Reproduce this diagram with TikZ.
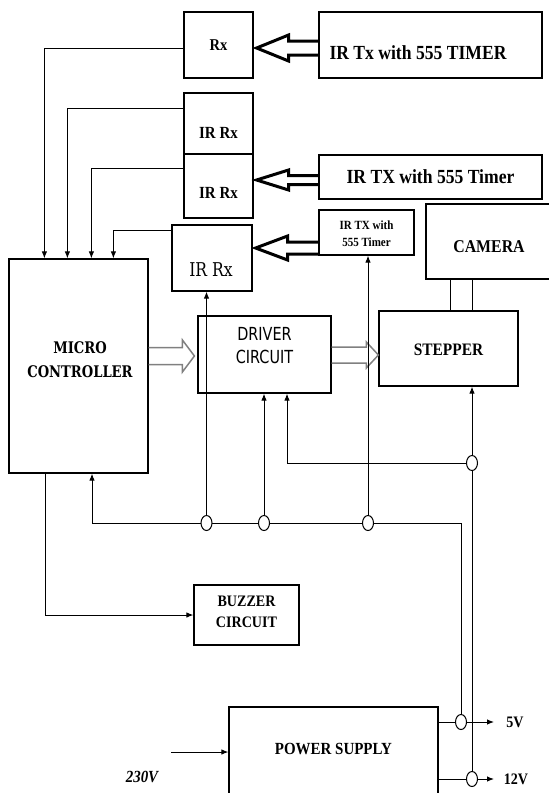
\documentclass[tikz,border=0pt]{standalone}
\usepackage{fontspec}
\setmainfont{Liberation Serif}
\newfontfamily\tnr{Liberation Serif}[FakeStretch=0.88]
\newfontfamily\djsans{DejaVu Sans}[FakeStretch=0.8]
\newfontfamily\djserif{DejaVu Serif}[FakeStretch=0.82]
\usetikzlibrary{arrows.meta,calc,shapes.geometric}
\newcommand\fsz[2]{\fontsize{#1}{#2}\selectfont}
\newcommand\blockarrow[6]{%
  \draw[#1] let \p1=(#2), \p2=(#3) in
    (\x1,\y2+#4) -- (\x2+#6,\y2+#4) -- (\x2+#6,\y2+#5) -- (\x2,\y2)
    -- (\x2+#6,\y2-#5) -- (\x2+#6,\y2-#4) -- (\x1,\y2-#4);}
\begin{document}
\begin{tikzpicture}[x=1pt,y=-1pt,
  box/.style={draw, line width=1.2pt, inner sep=0pt, rectangle},
  wire/.style={line width=1pt},
  tip/.style={-{Latex[length=7pt,width=5.5pt]}},
  junc/.style={draw, line width=1pt, fill=white, ellipse, minimum width=11pt, minimum height=15pt, inner sep=0pt},
  irarrow/.style={draw, line width=3pt, miter limit=20},
  grayarrow/.style={draw=black!50, line width=1.5pt, miter limit=20}
]
\useasboundingbox (0,0) rectangle (549,793);
\clip (0,0) rectangle (549,793);

% boxes
\node[box, minimum width=69pt, minimum height=66pt,
  label={[font=\tnr\bfseries\fsz{16.5}{18}]center:Rx}] (rx) at (218.5,45) {};
\node[box, minimum width=223pt, minimum height=66pt,
  label={[xshift=-12.5pt,yshift=-8pt,font=\tnr\bfseries\fsz{20}{22}]center:IR Tx with 555 TIMER}] (tx1) at (430.5,45) {};
\node[box, minimum width=69pt, minimum height=61pt,
  label={[yshift=-9.5pt,font=\tnr\bfseries\fsz{17}{19}]center:IR Rx}] (irrx1) at (218.5,123.5) {};
\node[box, minimum width=69pt, minimum height=64pt,
  label={[yshift=-7pt,font=\tnr\bfseries\fsz{17}{19}]center:IR Rx}] (irrx2) at (218.5,186) {};
\node[box, minimum width=223pt, minimum height=44pt,
  label={[font=\tnr\bfseries\fsz{20}{22}]center:IR TX with 555 Timer}] (tx2) at (430.5,177) {};
\node[box, minimum width=80pt, minimum height=66pt,
  label={[xshift=-1pt,yshift=-12pt,font=\djserif\fsz{19}{21}]center:IR Rx}] (irrx3) at (212,258) {};
\node[box, minimum width=95pt, minimum height=45pt,
  label={[yshift=-1pt,align=center,font=\tnr\bfseries\fsz{12.5}{17}]center:IR TX with\\555 Timer}] (tx3) at (366.5,232.5) {};
\node[box, minimum width=129pt, minimum height=75pt,
  label={[xshift=-1.5pt,yshift=-5.5pt,font=\tnr\bfseries\fsz{18}{20}]center:CAMERA}] (camera) at (490.5,241.5) {};
\node[box, minimum width=139pt, minimum height=214pt,
  label={[xshift=1.5pt,yshift=6pt,align=center,font=\djserif\bfseries\fsz{16}{24}]center:MICRO\\CONTROLLER}] (mc) at (78.5,366) {};
\node[box, minimum width=133pt, minimum height=77pt,
  label={[yshift=8.5pt,align=center,font=\djsans\fsz{18}{23}]center:DRIVER\\CIRCUIT}] (driver) at (264.5,354.5) {};
\node[box, minimum width=139pt, minimum height=75pt,
  label={[yshift=-1.5pt,font=\tnr\bfseries\fsz{17.5}{20}]center:STEPPER}] (stepper) at (448.5,348.5) {};
\node[box, minimum width=105pt, minimum height=60pt,
  label={[yshift=3pt,align=center,font=\tnr\bfseries\fsz{16}{21}]center:BUZZER\\CIRCUIT}] (buzzer) at (246.5,615) {};
\node[box, minimum width=209pt, minimum height=113pt,
  label={[yshift=14.5pt,font=\tnr\bfseries\fsz{17}{19}]center:POWER SUPPLY}] (power) at (333.5,763.5) {};

% outside labels
\node[font=\tnr\bfseries\fsz{16}{18}] (l5) at (515,722) {5V};
\node[font=\tnr\bfseries\fsz{16}{18}] (l12) at (516,779) {12V};
\node[font=\tnr\bfseries\itshape\fsz{17}{19}] (l230) at (142,777) {230V};

% coordinates
\coordinate (j1) at (206.5,523);
\coordinate (j2) at (264,523);
\coordinate (j3) at (368,523);
\coordinate (jr) at (461,523);
\coordinate (c4) at (472,463);
\coordinate (c5) at (461,722);
\coordinate (c12) at (472,779);
\coordinate (o5) at (494,722);
\coordinate (o12) at (494,779);
\coordinate (in230) at (171,752);

% IR block arrows
\blockarrow{irarrow}{[yshift=-3pt]tx1.west}{[xshift=3pt,yshift=-3pt]rx.east}{7pt}{13pt}{32pt}
\blockarrow{irarrow}{[yshift=-3pt]tx2.west}{[xshift=3pt,yshift=6pt]irrx2.east}{4.5pt}{10pt}{32pt}
\blockarrow{irarrow}{[yshift=-15.5pt]tx3.west}{[xshift=3pt,yshift=10pt]irrx3.east}{6pt}{12pt}{32pt}

% gray block arrows
\blockarrow{grayarrow}{[yshift=-1.5pt]mc.east}{[xshift=-3pt,yshift=-1.5pt]driver.west}{8.5pt}{16pt}{-12pt}
\blockarrow{grayarrow}{[yshift=-6.5pt]driver.east}{[yshift=-6.5pt]stepper.west}{8pt}{13pt}{-12pt}

% receivers to micro controller
\draw[wire,tip] ([yshift=-3pt]rx.west) -| ([xshift=36pt]mc.north west);
\draw[wire,tip] ([yshift=15.5pt]irrx1.west) -| ([xshift=59pt]mc.north west);
\draw[wire,tip] ([yshift=18pt]irrx2.west) -| ([xshift=83pt]mc.north west);
\draw[wire,tip] ([yshift=28pt]irrx3.west) -| ([xshift=105pt]mc.north west);

% camera - stepper
\draw[wire] ([xshift=1.5pt]stepper.north |- camera.south) -- ([xshift=1.5pt]stepper.north);
\draw[wire] (c4 |- camera.south) -- (c4 |- stepper.north);

% supply bus
\draw[wire,tip] (jr) -| ([xshift=13.5pt]mc.south);
\draw[wire] (jr) -- (c5);
\draw[wire,tip] (j1) -- (j1 |- irrx3.south);
\draw[wire,tip] (j2) -- (j2 |- driver.south);
\draw[wire,tip] (j3) -- (j3 |- tx3.south);
\draw[wire,tip] (c12) -- (c12 |- stepper.south);
\draw[wire,tip] (c4) -| ([xshift=22.5pt]driver.south);

% buzzer
\draw[wire,tip] ([xshift=-33.5pt]mc.south) |- (buzzer.west);

% power supply outputs / input
\draw[wire,tip] (power.east |- c5) -- (o5);
\draw[wire,tip] (power.east |- c12) -- (o12);
\draw[wire,tip] (in230) -- (in230 -| power.west);

% junction circles
\node[junc] at (j1) {};
\node[junc] at (j2) {};
\node[junc] at (j3) {};
\node[junc] at (c4) {};
\node[junc] at (c5) {};
\node[junc] at (c12) {};
\end{tikzpicture}
\end{document}
